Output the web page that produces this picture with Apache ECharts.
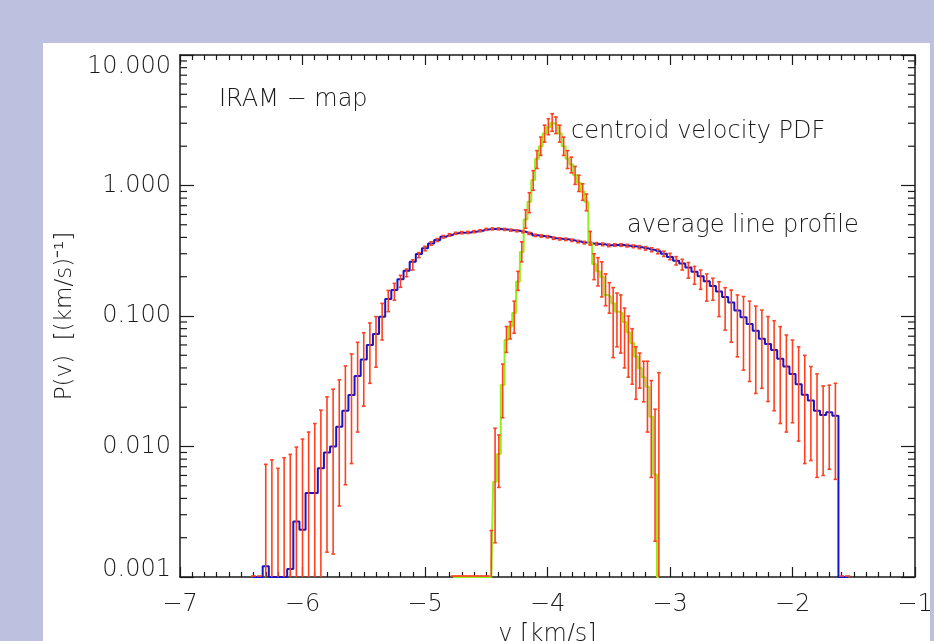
<!DOCTYPE html>
<html>
<head>
<meta charset="utf-8">
<script src="https://cdn.jsdelivr.net/npm/echarts@6/dist/echarts.min.js"></script>
<style>
html,body{margin:0;padding:0;background:#bec0e0;}
#main{width:934px;height:641px;}
</style>
</head>
<body>
<div id="main"></div>
<script>
// average line profile, bin centres (km/s)
var avgV = [-6.40,-6.35,-6.30,-6.25,-6.20,-6.15,-6.10,-6.05,-6.00,-5.95,-5.90,-5.85,-5.80,-5.75,-5.70,-5.65,-5.60,-5.55,-5.50,-5.45,
  -5.40,-5.35,-5.30,-5.25,-5.20,-5.15,-5.10,-5.05,-5.00,-4.95,-4.90,-4.85,-4.80,-4.75,-4.70,-4.65,-4.60,-4.55,-4.50,-4.45,
  -4.40,-4.35,-4.30,-4.25,-4.20,-4.15,-4.10,-4.05,-4.00,-3.95,-3.90,-3.85,-3.80,-3.75,-3.70,-3.65,-3.60,-3.55,-3.50,-3.45,
  -3.40,-3.35,-3.30,-3.25,-3.20,-3.15,-3.10,-3.05,-3.00,-2.95,-2.90,-2.85,-2.80,-2.75,-2.70,-2.65,-2.60,-2.55,-2.50,-2.45,
  -2.40,-2.35,-2.30,-2.25,-2.20,-2.15,-2.10,-2.05,-2.00,-1.95,-1.90,-1.85,-1.80,-1.75,-1.70,-1.65,-1.60,-1.55]
var avgP = [0,0,0.00121,0,0,0,0.00115,0.00266,0.0023,0.0044,0.0044,0.0068,0.0090,0.0100,0.0142,0.0188,0.0248,0.0347,0.0465,0.0600,
  0.0728,0.0989,0.135,0.158,0.191,0.222,0.260,0.299,0.330,0.360,0.382,0.405,0.418,0.430,0.435,0.437,0.443,0.450,0.461,0.465,
  0.465,0.461,0.455,0.450,0.443,0.430,0.415,0.410,0.405,0.395,0.390,0.387,0.380,0.372,0.365,0.360,0.357,0.354,0.348,0.350,
  0.350,0.346,0.342,0.337,0.330,0.322,0.313,0.300,0.283,0.265,0.252,0.235,0.218,0.202,0.185,0.170,0.154,0.140,0.127,0.110,
  0.098,0.087,0.077,0.067,0.061,0.055,0.047,0.041,0.036,0.030,0.0249,0.0225,0.0188,0.0174,0.0183,0.0172,0,0]
var avgHi = [0,0,0.0073,0.0079,0.0068,0.0082,0.0087,0.0099,0.0114,0.0129,0.0150,0.0190,0.0240,0.0275,0.0324,0.0414,0.0512,0.0628,0.0745,0.0885,
  0.0990,0.125,0.157,0.178,0.205,0.229,0.270,0.306,0.342,0.370,0.392,0.414,0.427,0.438,0.443,0.445,0.451,0.458,0.469,0.473,
  0.473,0.469,0.463,0.458,0.451,0.438,0.423,0.418,0.413,0.403,0.398,0.395,0.388,0.380,0.373,0.368,0.365,0.362,0.356,0.358,
  0.358,0.354,0.350,0.346,0.340,0.333,0.325,0.314,0.302,0.285,0.272,0.257,0.240,0.225,0.210,0.195,0.183,0.165,0.158,0.145,
  0.141,0.130,0.119,0.111,0.099,0.092,0.083,0.0715,0.0654,0.058,0.050,0.041,0.036,0.0291,0.0295,0.0305,0,0]
var avgLo = [0,0,0,0,0,0,0,0,0,0,0,0,0.00155,0.0015,0.0035,0.0051,0.0074,0.0129,0.0204,0.0305,
  0.0405,0.0655,0.108,0.132,0.166,0.200,0.225,0.280,0.316,0.348,0.372,0.396,0.409,0.422,0.427,0.429,0.435,0.442,0.453,0.457,
  0.457,0.453,0.447,0.442,0.435,0.422,0.407,0.402,0.397,0.387,0.382,0.379,0.372,0.364,0.357,0.352,0.349,0.346,0.340,0.342,
  0.342,0.338,0.334,0.328,0.320,0.311,0.300,0.286,0.270,0.246,0.225,0.195,0.175,0.160,0.130,0.132,0.099,0.078,0.063,0.0487,
  0.0385,0.0315,0.0255,0.0279,0.0221,0.0188,0.0150,0.0129,0.0152,0.0110,0.0074,0.0078,0.0058,0.0060,0.0067,0.0056,0,0]

// centroid velocity PDF, bin centres (km/s)
var cenV = [-4.770,-4.739,-4.708,-4.677,-4.646,-4.615,-4.584,-4.553,-4.521,-4.490,
  -4.459,-4.428,-4.397,-4.366,-4.335,-4.304,-4.272,-4.241,-4.210,-4.179,-4.148,-4.117,-4.086,-4.055,-4.024,
  -3.993,-3.962,-3.931,-3.900,-3.868,-3.837,-3.806,-3.775,-3.744,-3.713,-3.682,-3.651,-3.620,-3.588,-3.557,
  -3.526,-3.495,-3.464,-3.433,-3.402,-3.371,-3.340,-3.309,-3.278,-3.247,-3.215,-3.184,-3.153,-3.122,-3.091]
var cenP = [0,0,0,0,0,0,0,0,0,0,
  0,0.00537,0.00877,0.0296,0.0655,0.083,0.1055,0.183,0.31,0.55,0.75,1.1,1.6,2.0,2.5,
  2.8,3.0,2.9,2.5,2.0,1.6,1.45,1.2,1.05,0.9,0.75,0.36,0.25,0.22,0.20,
  0.145,0.14,0.125,0.108,0.105,0.09,0.075,0.062,0.049,0.040,0.034,0.0287,0.0169,0.0061,0]
var cenHi = [0,0,0,0,0,0,0,0,0,0,
  0.00227,0.0138,0.01225,0.0428,0.083,0.0905,0.130,0.22,0.37,0.65,0.88,1.3,1.85,2.35,2.9,
  3.25,3.55,3.35,2.9,2.35,1.85,1.65,1.4,1.2,1.03,0.86,0.445,0.30,0.28,0.26,
  0.21,0.18,0.165,0.15,0.145,0.115,0.10,0.08,0.058,0.052,0.045,0.045,0.032,0.0193,0.0368]
var cenLo = [0,0,0,0,0,0,0,0,0,0,
  0,0.00183,0.00486,0.0166,0.0526,0.0667,0.0738,0.157,0.26,0.47,0.62,0.92,1.35,1.7,2.15,
  2.45,2.6,2.5,2.15,1.7,1.35,1.25,1.02,0.9,0.77,0.64,0.35,0.19,0.17,0.14,
  0.12,0.105,0.048,0.058,0.052,0.04,0.034,0.030,0.023,0.028,0.022,0.0129,0.0058,0.00188,0]

var xTicks = [-7,-6,-5,-4,-3,-2,-1]
var yTicks = [0.001,0.01,0.1,1,10]
var yMin = yTicks[0], yMax = yTicks[yTicks.length-1]

var blue = '#1414c8', green = '#94ee1a', red = '#ff4020', ink = '#1a1a1a'
var font = 'DejaVu Sans'

function stepData(v, p){
    var out = []
    for (var i = 0; i < v.length; i++) out.push([v[i], Math.max(p[i], yMin)])
    return out
}
function errData(v, hi, lo){
    var out = []
    for (var i = 0; i < v.length; i++) out.push([v[i], hi[i], lo[i]])
    return out
}
// minor ticks of the log axis (2..9 in every decade)
var minorY = []
for (var d = 0; d < yTicks.length-1; d++){
    for (var m = 2; m < 10; m++) minorY.push([xTicks[0], yTicks[d]*m])
}

function errItem(params, api){
    var cs = params.coordSys
    var bottom = cs.y + cs.height
    var x = api.coord([api.value(0), yMin])[0]
    var hv = api.value(1), lv = api.value(2)
    var st = {stroke: red, lineWidth: 1.6}
    var ch = []
    if (!(hv > yMin)) {
        ch.push({type:'line', shape:{x1:x-2.5, y1:bottom-1, x2:x+2.5, y2:bottom-1}, style:st})
    } else {
        var yh = api.coord([api.value(0), hv])[1]
        var yl = lv > yMin ? api.coord([api.value(0), lv])[1] : bottom
        ch.push({type:'line', shape:{x1:x, y1:yh, x2:x, y2:yl}, style:st})
        ch.push({type:'line', shape:{x1:x-1.8, y1:yh, x2:x+1.8, y2:yh}, style:st})
        if (lv > yMin) ch.push({type:'line', shape:{x1:x-1.8, y1:yl, x2:x+1.8, y2:yl}, style:st})
    }
    return {type:'group', children:ch}
}

function minorItem(params, api){
    var cs = params.coordSys
    var y = api.coord([api.value(0), api.value(1)])[1]
    var st = {stroke: ink, lineWidth: 1.2}
    return {type:'group', children:[
        {type:'line', shape:{x1:cs.x, y1:y, x2:cs.x+7, y2:y}, style:st},
        {type:'line', shape:{x1:cs.x+cs.width-7, y1:y, x2:cs.x+cs.width, y2:y}, style:st}
    ]}
}

var chart = echarts.init(document.getElementById('main'))

var xBase = {
    type:'value', min:xTicks[0], max:xTicks[xTicks.length-1], interval:1,
    splitLine:{show:false},
    axisLine:{lineStyle:{color:ink, width:1.5}},
    axisTick:{inside:true, length:10, lineStyle:{color:ink, width:1.2}},
    minorTick:{show:true, splitNumber:10, length:5, lineStyle:{color:ink, width:1.2}}
}
var yBase = {
    type:'log', logBase:10, min:yMin, max:yMax,
    splitLine:{show:false}, minorSplitLine:{show:false},
    axisLine:{lineStyle:{color:ink, width:1.5}},
    axisTick:{inside:true, length:14, lineStyle:{color:ink, width:1.2}}
}

var option = {
    animation:false,
    backgroundColor:'#bec0e0',
    textStyle:{fontFamily:font},
    graphic:[
        {type:'rect', z:-10, shape:{x:43, y:43, width:887, height:598}, style:{fill:'#ffffff'}},
        {type:'text', left:219, top:88, style:{text:'IRAM − map', font:'200 24px "DejaVu Sans"', fill:ink}},
        {type:'text', left:571, top:120, style:{text:'centroid velocity PDF', font:'200 24px "DejaVu Sans"', fill:ink}},
        {type:'text', left:627, top:214, style:{text:'average line profile', font:'200 24px "DejaVu Sans"', fill:ink}}
    ],
    grid:{left:180, top:55, width:735, height:522, containLabel:false, outerBoundsMode:'none'},
    xAxis:[
        Object.assign({}, xBase, {
            position:'bottom',
            name:'v [km/s]', nameLocation:'middle', nameGap:46,
            nameTextStyle:{fontSize:24, fontWeight:200, color:ink, fontFamily:font},
            axisLabel:{fontSize:24, fontWeight:200, color:ink, margin:16, fontFamily:font,
                formatter:function(v){ return String(v).replace('-', '−') }}
        }),
        Object.assign({}, xBase, {position:'top', axisLabel:{show:false}})
    ],
    yAxis:[
        Object.assign({}, yBase, {
            position:'left',
            name:'P(v)  [(km/s)⁻¹]', nameLocation:'middle', nameGap:103, nameRotate:90,
            nameTextStyle:{fontSize:23, fontWeight:200, color:ink, fontFamily:font},
            axisLabel:{fontSize:24, fontWeight:200, color:ink, margin:9, fontFamily:font,
                verticalAlignMinLabel:'bottom', verticalAlignMaxLabel:'top',
                formatter:function(v){
                    var s = v.toFixed(3)
                    return Math.abs(v - yMin) < 1e-9 ? '{lo|' + s + '}' : s
                },
                rich:{lo:{fontSize:24, fontWeight:200, color:ink, fontFamily:font, lineHeight:14}}}
        }),
        Object.assign({}, yBase, {position:'right', axisLabel:{show:false}})
    ],
    series:[
        {type:'custom', renderItem:minorItem, data:minorY, silent:true, z:1},
        {type:'line', name:'average line profile', step:'middle', data:stepData(avgV, avgP),
            showSymbol:false, clip:true, lineStyle:{color:blue, width:2}, z:3},
        {type:'line', name:'centroid velocity PDF', step:'middle', data:stepData(cenV, cenP),
            showSymbol:false, clip:true, lineStyle:{color:green, width:2}, z:3},
        {type:'custom', renderItem:errItem, data:errData(avgV, avgHi, avgLo),
            dimensions:['v','hi','lo'], encode:{x:0, y:1}, silent:true, z:4},
        {type:'custom', renderItem:errItem, data:errData(cenV, cenHi, cenLo),
            dimensions:['v','hi','lo'], encode:{x:0, y:1}, silent:true, z:4}
    ]
}
chart.setOption(option)
</script>
</body>
</html>
